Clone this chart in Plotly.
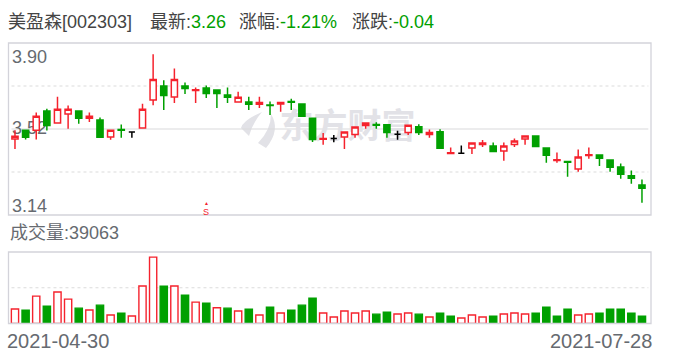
import plotly.graph_objects as go

W, H = 688, 360
stock = "美盈森[002303]"
latest, pct, chg = "3.26", "-1.21%", "-0.04"
price_labels = ["3.90", "3.52", "3.14"]
dates = ["2021-04-30", "2021-07-28"]
vol_label = "39063"

RED, GREEN, GREY, FRAME = "#f5222d", "#00a000", "#666a70", "#d3d3da"

# kind: u = red hollow, d = green solid, k = black doji
kinds = ["u","d","u","d","u","u","d","u","d","u","d","k","u","u","d","u","d","u","d","d",
         "d","u","d","u","d","u","d","d","d","u","k","u","u","u","d","d","k","u","d","u",
         "d","u","k","u","u","d","u","u","u","d","d","u","d","u","u","d","d","d","d","d"]
# open, high, low, close
opens = [3.476,3.515,3.515,3.599,3.546,3.586,3.599,3.568,3.560,3.485,3.518,3.507,3.524,3.648,3.710,3.661,3.710,3.690,3.701,3.692,
         3.670,3.639,3.639,3.629,3.626,3.630,3.641,3.630,3.568,3.475,3.478,3.485,3.496,3.536,3.540,3.539,3.497,3.505,3.530,3.496,
         3.508,3.412,3.413,3.436,3.452,3.445,3.423,3.452,3.476,3.489,3.436,3.381,3.376,3.343,3.403,3.405,3.383,3.352,3.313,3.273]
highs = [3.515,3.518,3.593,3.610,3.663,3.624,3.601,3.593,3.571,3.516,3.540,3.507,3.632,3.850,3.735,3.787,3.725,3.703,3.712,3.694,
         3.703,3.685,3.662,3.663,3.641,3.640,3.654,3.632,3.571,3.502,3.494,3.509,3.531,3.549,3.550,3.541,3.512,3.540,3.541,3.518,
         3.519,3.438,3.447,3.460,3.471,3.460,3.460,3.478,3.491,3.491,3.438,3.416,3.378,3.429,3.438,3.407,3.385,3.368,3.337,3.297]
lows = [3.432,3.474,3.474,3.513,3.544,3.521,3.543,3.551,3.481,3.472,3.481,3.481,3.522,3.625,3.604,3.635,3.675,3.635,3.657,3.613,
        3.635,3.637,3.604,3.613,3.582,3.596,3.604,3.574,3.463,3.450,3.462,3.432,3.481,3.521,3.521,3.481,3.472,3.494,3.494,3.481,
        3.432,3.410,3.410,3.410,3.441,3.419,3.380,3.441,3.450,3.441,3.371,3.371,3.309,3.331,3.388,3.357,3.331,3.300,3.278,3.194]
closes = [3.488,3.483,3.576,3.536,3.607,3.607,3.567,3.576,3.483,3.514,3.515,3.507,3.607,3.739,3.668,3.739,3.699,3.693,3.677,3.677,
          3.660,3.660,3.629,3.637,3.624,3.637,3.638,3.576,3.474,3.478,3.478,3.507,3.529,3.546,3.537,3.505,3.497,3.537,3.505,3.505,
          3.435,3.415,3.413,3.458,3.458,3.421,3.445,3.467,3.489,3.443,3.404,3.384,3.373,3.396,3.406,3.391,3.351,3.320,3.302,3.258]
volumes = [77,71,146,92,168,130,82,72,98,45,55,40,200,354,199,200,151,114,108,84,
           82,67,76,45,87,56,71,98,135,56,35,67,56,67,50,60,51,56,50,35,
           55,39,29,45,35,39,51,56,51,55,87,39,76,45,51,55,76,76,55,39.063]
vol_red = [1,0,1,0,1,1,0,1,0,1,0,1,1,1,0,1,0,1,0,1,
           0,1,0,1,0,1,0,0,0,1,1,1,1,1,0,0,1,1,0,1,
           0,0,1,1,1,0,1,1,1,0,0,0,0,1,1,0,0,0,0,0]

idx = list(range(len(opens)))
L, R = 8.5, 651.0
xrange_ = [-0.61, 59.85]
P_TOP, P_BOT = 43.0, 215.0
V_TOP, V_BOT = 252.0, 323.5
WM = "#e2e2e7"

def pick(seq, k):
    return [s for s, kk in zip(seq, kinds) if kk == k]

fig = go.Figure()

# Under-layer subplot: watermark and middle price label sit below the candles
fig.add_trace(go.Scatter(x=[31.3], y=[3.52], mode="text", text=["东方财富"], xaxis="x", yaxis="y",
                         textfont=dict(family="Noto Sans CJK SC", size=34, color=WM, weight="bold"),
                         textposition="middle center", hoverinfo="skip", showlegend=False))
fig.add_trace(go.Scatter(x=[1.36], y=[3.517], mode="text", text=[price_labels[1]], xaxis="x", yaxis="y",
                         textfont=dict(family="Liberation Sans", size=18, color=GREY),
                         textposition="middle center", hoverinfo="skip", showlegend=False))

for k, inc, dec in [("u", RED, RED), ("d", GREEN, GREEN), ("k", "#000000", "#000000")]:
    fig.add_trace(go.Candlestick(
        x=pick(idx, k), open=pick(opens, k), high=pick(highs, k), low=pick(lows, k), close=pick(closes, k),
        xaxis="x2", yaxis="y2", whiskerwidth=0, showlegend=False, hoverinfo="skip",
        increasing=dict(line=dict(color=inc, width=1.5), fillcolor="#ffffff" if k == "u" else inc),
        decreasing=dict(line=dict(color=dec, width=1.5), fillcolor=dec),
    ))

fig.add_trace(go.Bar(x=idx, y=volumes, xaxis="x3", yaxis="y3", width=0.68, showlegend=False, hoverinfo="skip",
                     marker=dict(color=["#ffffff" if r else GREEN for r in vol_red],
                                 line=dict(color=[RED if r else GREEN for r in vol_red], width=1.4))))

dom_x = [L / W, R / W]
dom_p = [1 - P_BOT / H, 1 - P_TOP / H]
dom_v = [1 - V_BOT / H, 1 - V_TOP / H]
hide = dict(showgrid=False, zeroline=False, showticklabels=False, ticks="", showline=False, fixedrange=True)
shapes = []
for yref, yv, dash in [("y", 3.71, "3px,3px"), ("y", 3.52, "solid"), ("y", 3.33, "3px,3px"), ("y3", 190.8, "3px,3px")]:
    shapes.append(dict(type="line", xref="x", yref=yref, x0=-0.33, x1=59.6, y0=yv, y1=yv,
                       line=dict(color="#dcdcdc" if dash != "solid" else "#d9d9dc", width=1.2, dash=dash), layer="below"))
for y0, y1 in [(P_TOP, P_BOT), (V_TOP, V_BOT)]:
    shapes.append(dict(type="rect", xref="paper", yref="paper", x0=L / W, x1=R / W, y0=1 - y1 / H, y1=1 - y0 / H,
                       line=dict(color=FRAME, width=1.3), layer="above"))

def px(x, y):
    return f"{x / W:.5f},{1 - y / H:.5f}"

# watermark logo: two swooshes
for path in [
    f"M {px(262, 112)} Q {px(243, 120)} {px(241, 128)} L {px(249, 136)} Q {px(253, 122)} {px(262, 112)} Z",
    f"M {px(271, 114)} Q {px(281, 130)} {px(266, 148)} L {px(258, 143)} Q {px(271, 130)} {px(271, 114)} Z",
]:
    shapes.append(dict(type="path", xref="paper", yref="paper", path=path, fillcolor=WM, line=dict(width=0), layer="below"))

def note(x, y, text, size=18, color="#444444", anchor="left"):
    return dict(xref="paper", yref="paper", x=x / W, y=1 - y / H, text=text, showarrow=False, xanchor=anchor, yanchor="middle",
                borderpad=0, font=dict(family="Liberation Sans, Noto Sans CJK SC", size=size, color=color))

annos = [
    note(7, 22, stock), note(149, 22, "最新:"), note(190, 22, latest, color=GREEN),
    note(238, 22, "涨幅:"), note(279, 22, pct, color=GREEN), note(351, 22, "涨跌:"), note(392, 22, chg, color=GREEN),
    note(11, 57, price_labels[0], color=GREY), note(11, 206, price_labels[2], color=GREY),
    note(9, 233, "成交量:" + vol_label, size=18, color=GREY),
    note(6, 341, dates[0], size=20, color=GREY), note(653, 341, dates[1], size=20, color=GREY, anchor="right"),
    note(206.5, 211.5, "S", size=9, color=RED, anchor="center"),
    note(206.5, 203, "▲", size=5, color=RED, anchor="center"),
]

fig.update_layout(
    width=W, height=H, margin=dict(l=0, r=0, t=0, b=0), paper_bgcolor="white", plot_bgcolor="white",
    showlegend=False, boxmode="overlay", boxgap=0.17, bargap=0.3, shapes=shapes, annotations=annos,
    xaxis=dict(domain=dom_x, range=xrange_, **hide),
    yaxis=dict(domain=dom_p, range=[3.14, 3.90], **hide),
    xaxis2=dict(domain=dom_x, range=xrange_, overlaying="x", rangeslider=dict(visible=False), **hide),
    yaxis2=dict(domain=dom_p, range=[3.14, 3.90], overlaying="y", **hide),
    xaxis3=dict(domain=dom_x, range=xrange_, anchor="y3", **hide),
    yaxis3=dict(domain=dom_v, range=[0, 381.6], anchor="x3", **hide),
)
fig.write_html("out.html", config=dict(displayModeBar=False), post_script="document.body.style.margin='0';")
